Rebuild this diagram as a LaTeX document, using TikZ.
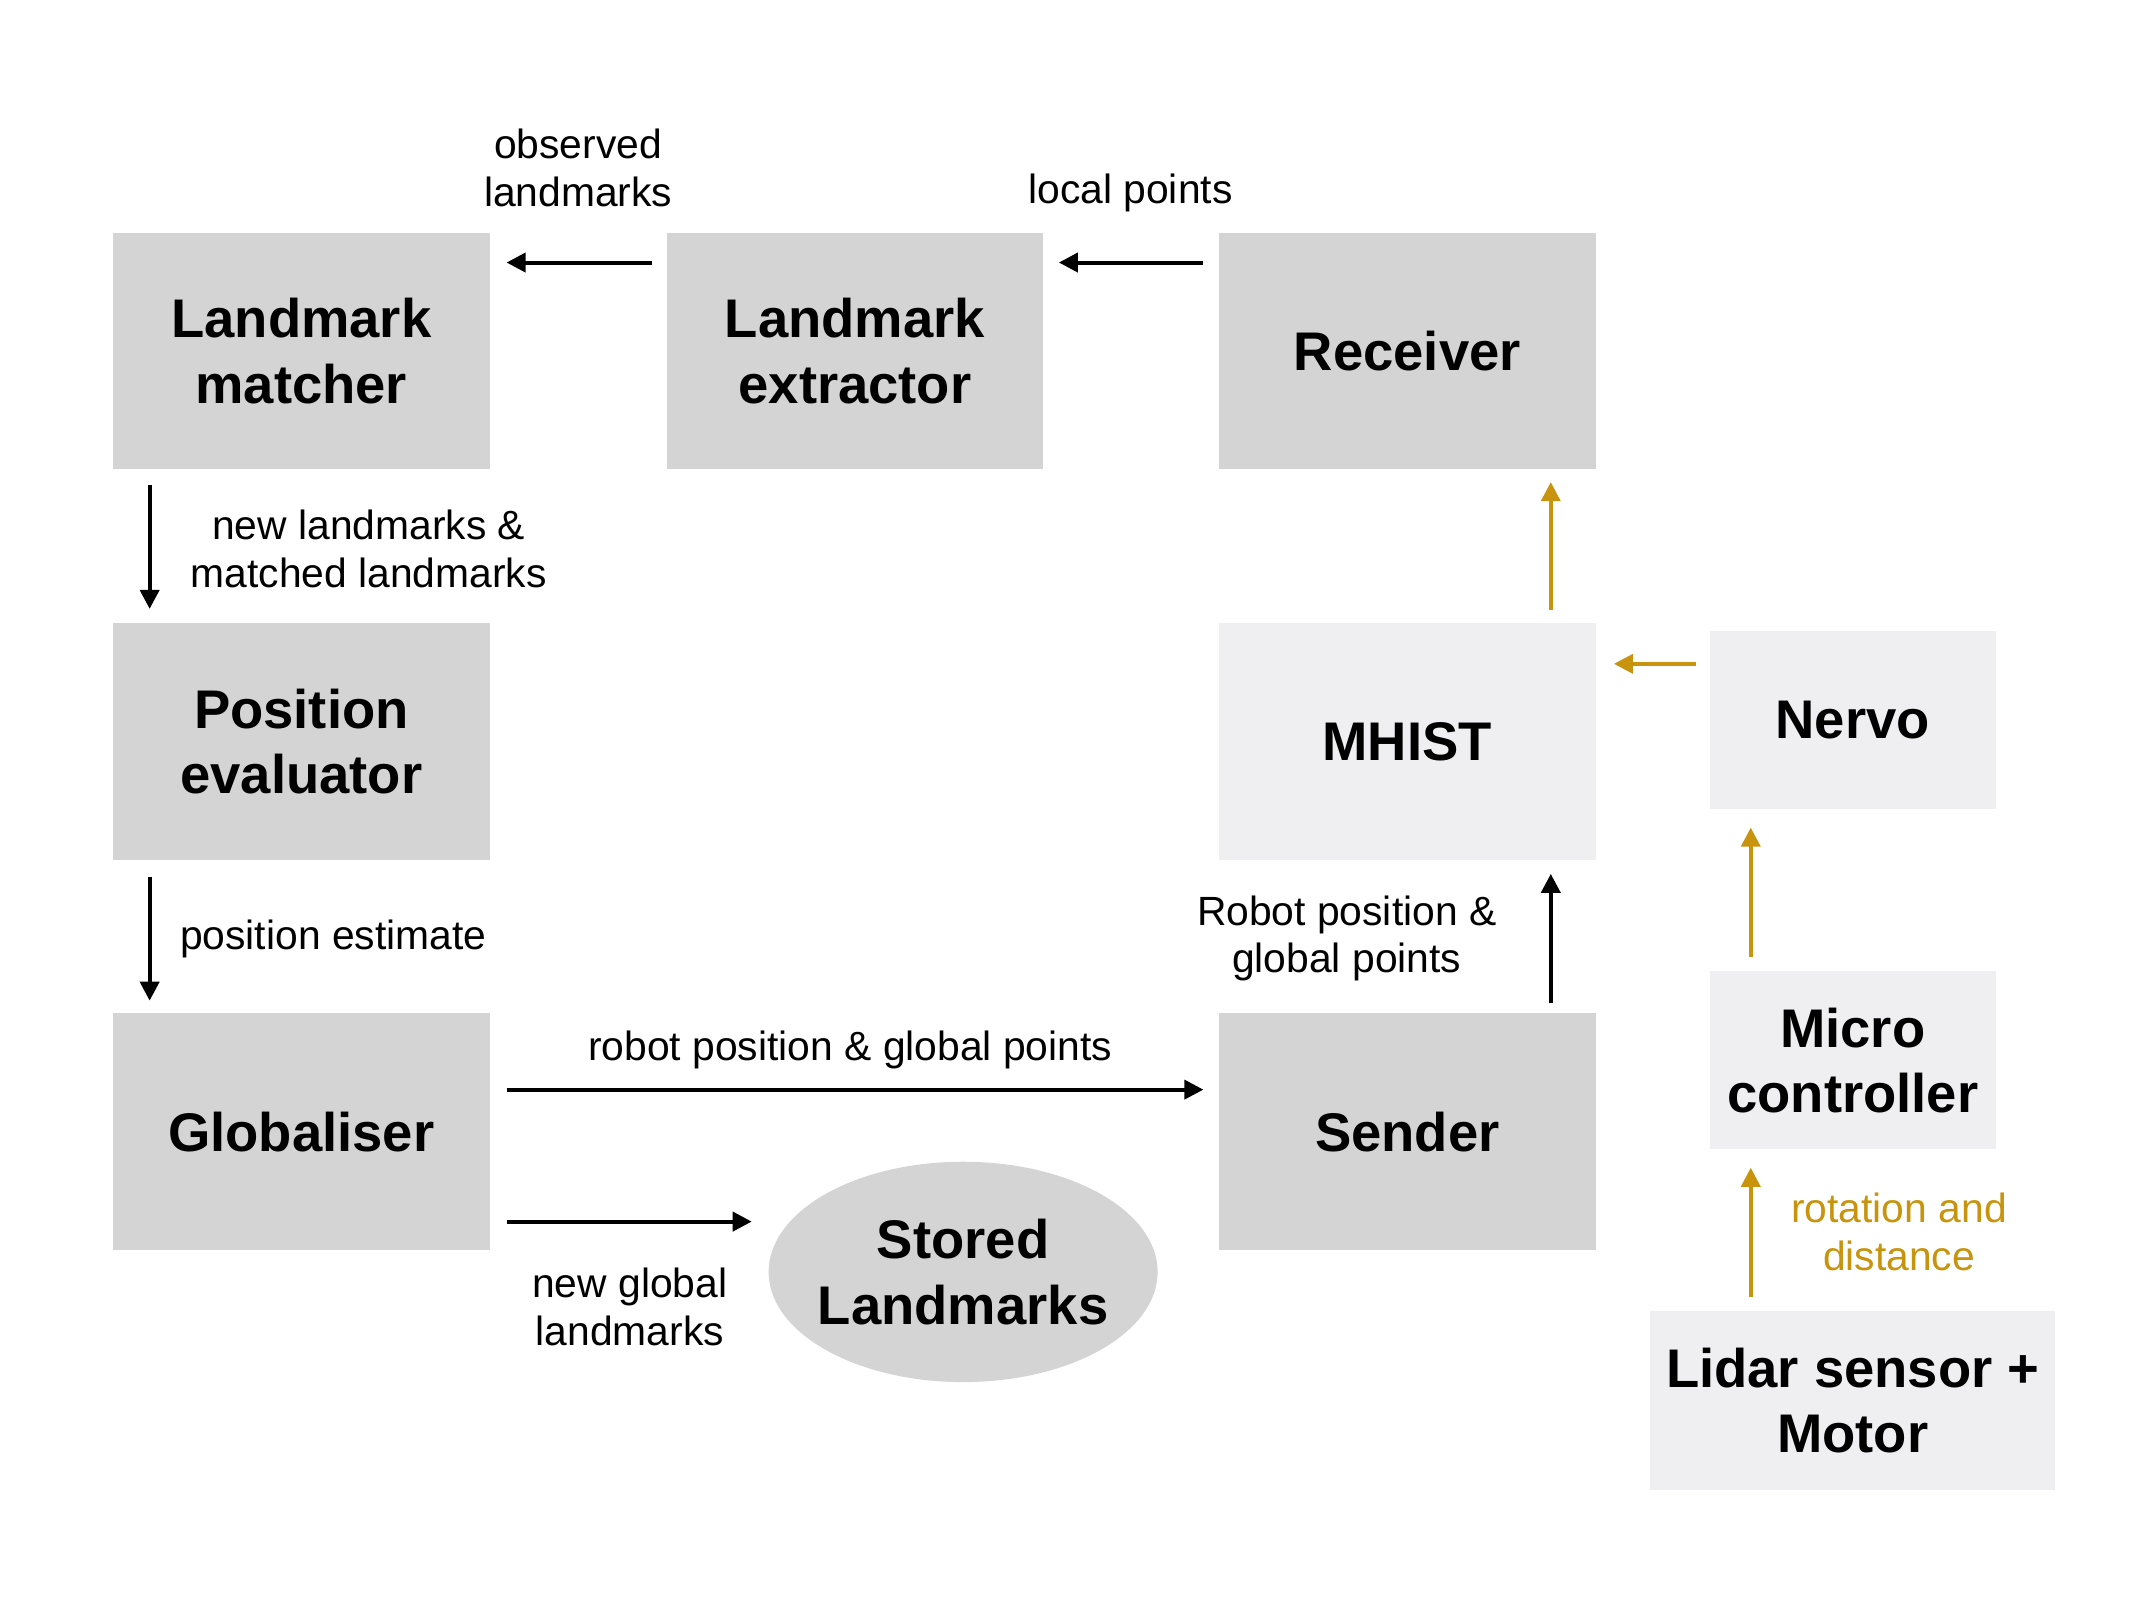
\documentclass[tikz,border=0pt]{standalone}
\usepackage{fontspec}
\setmainfont{Liberation Sans}
\usetikzlibrary{arrows.meta,shapes.geometric}
\definecolor{boxdark}{RGB}{212,212,212}
\definecolor{boxlight}{RGB}{239,239,241}
\definecolor{gold}{RGB}{200,148,14}
\begin{document}
\begin{tikzpicture}[x=0.5pt,y=-0.5pt,
  bigtext/.style={font=\fontsize{20}{24}\selectfont\bfseries, align=center, inner sep=0pt},
  blk/.style={bigtext, fill=boxdark, minimum width=138.5pt, minimum height=87pt},
  lblk/.style={bigtext, fill=boxlight, minimum width=138.5pt, minimum height=87pt},
  sblk/.style={bigtext, fill=boxlight, minimum width=105pt, minimum height=65.5pt},
  lbl/.style={font=\fontsize{15}{17.5}\selectfont, align=center, inner sep=0pt},
  arr/.style={line width=1.45pt, -{Triangle[length=7pt,width=7pt]}},
  garr/.style={arr, line width=1.3pt, draw=gold, -{Triangle[length=7pt,width=7pt,fill=gold]}}
]
\useasboundingbox (0,0) rectangle (1568,1176);

% nodes
\node[blk] (LM) at (221.5,258) {Landmark\\matcher};
\node[blk] (LE) at (628.5,258) {Landmark\\extractor};
\node[blk] (Rec) at (1034.5,258) {Receiver};
\node[blk] (PE) at (221.5,545) {Position\\evaluator};
\node[blk] (Glob) at (221.5,832) {Globaliser};
\node[blk] (Send) at (1034.5,832) {Sender};
\node[lblk] (MH) at (1034.5,545) {MHIST};
\node[sblk] (Nervo) at (1362,529.5) {Nervo};
\node[sblk] (Micro) at (1362,779.5) {Micro\\controller};
\node[sblk, minimum width=149pt] (Lidar) at (1362,1029.5) {Lidar sensor +\\Motor};
\node[bigtext, ellipse, inner xsep=-4pt, fill=boxdark, minimum width=143pt, minimum height=81pt] (Stored) at (708,935) {Stored\\Landmarks};

% labels
\node[lbl] (l1) at (425,123.5) {observed\\landmarks};
\node[lbl] (l2) at (831,142) {local points};
\node[lbl] (l3) at (271,403.5) {new landmarks \&\\matched landmarks};
\node[lbl, anchor=west] (l4) at (132,690) {position estimate};
\node[lbl] (l5) at (625,772) {robot position \& global points};
\node[lbl] (l6) at (463,960.5) {new global\\landmarks};
\node[lbl] (l7) at (990,690) {Robot position \&\\global points};
\node[lbl, text=gold] (l8) at (1396,905.5) {rotation and\\distance};

% black connectors
\draw[arr, shorten <=5pt, shorten >=6pt] (LE.west |- 0,193) -- (LM.east |- 0,193);
\draw[arr, shorten <=5.5pt, shorten >=5.5pt] (Rec.west |- 0,193) -- (LE.east |- 0,193);
\draw[arr, shorten <=5.5pt, shorten >=5pt] (LM.south -| 110,0) -- (PE.north -| 110,0);
\draw[arr, shorten <=6pt, shorten >=4.5pt] (PE.south -| 110,0) -- (Glob.north -| 110,0);
\draw[arr, shorten <=6pt, shorten >=5.5pt] (Glob.east |- 0,801) -- (Send.west |- 0,801);
\draw[arr, shorten <=6pt, shorten >=6pt] (Glob.east |- 0,898) -- (Stored.west |- 0,898);
\draw[arr, shorten <=3.5pt, shorten >=5pt] (Send.north -| 1140,0) -- (MH.south -| 1140,0);

% gold connectors
\draw[garr, shorten <=4.5pt, shorten >=4.5pt] (MH.north -| 1140,0) -- (Rec.south -| 1140,0);
\draw[garr, shorten <=5pt, shorten >=6.5pt] (Nervo.west |- 0,488) -- (MH.east |- 0,488);
\draw[garr, shorten <=5pt, shorten >=6.5pt] (Micro.north -| 1287,0) -- (Nervo.south -| 1287,0);
\draw[garr, shorten <=5pt, shorten >=6.5pt] (Lidar.north -| 1287,0) -- (Micro.south -| 1287,0);
\end{tikzpicture}
\end{document}
